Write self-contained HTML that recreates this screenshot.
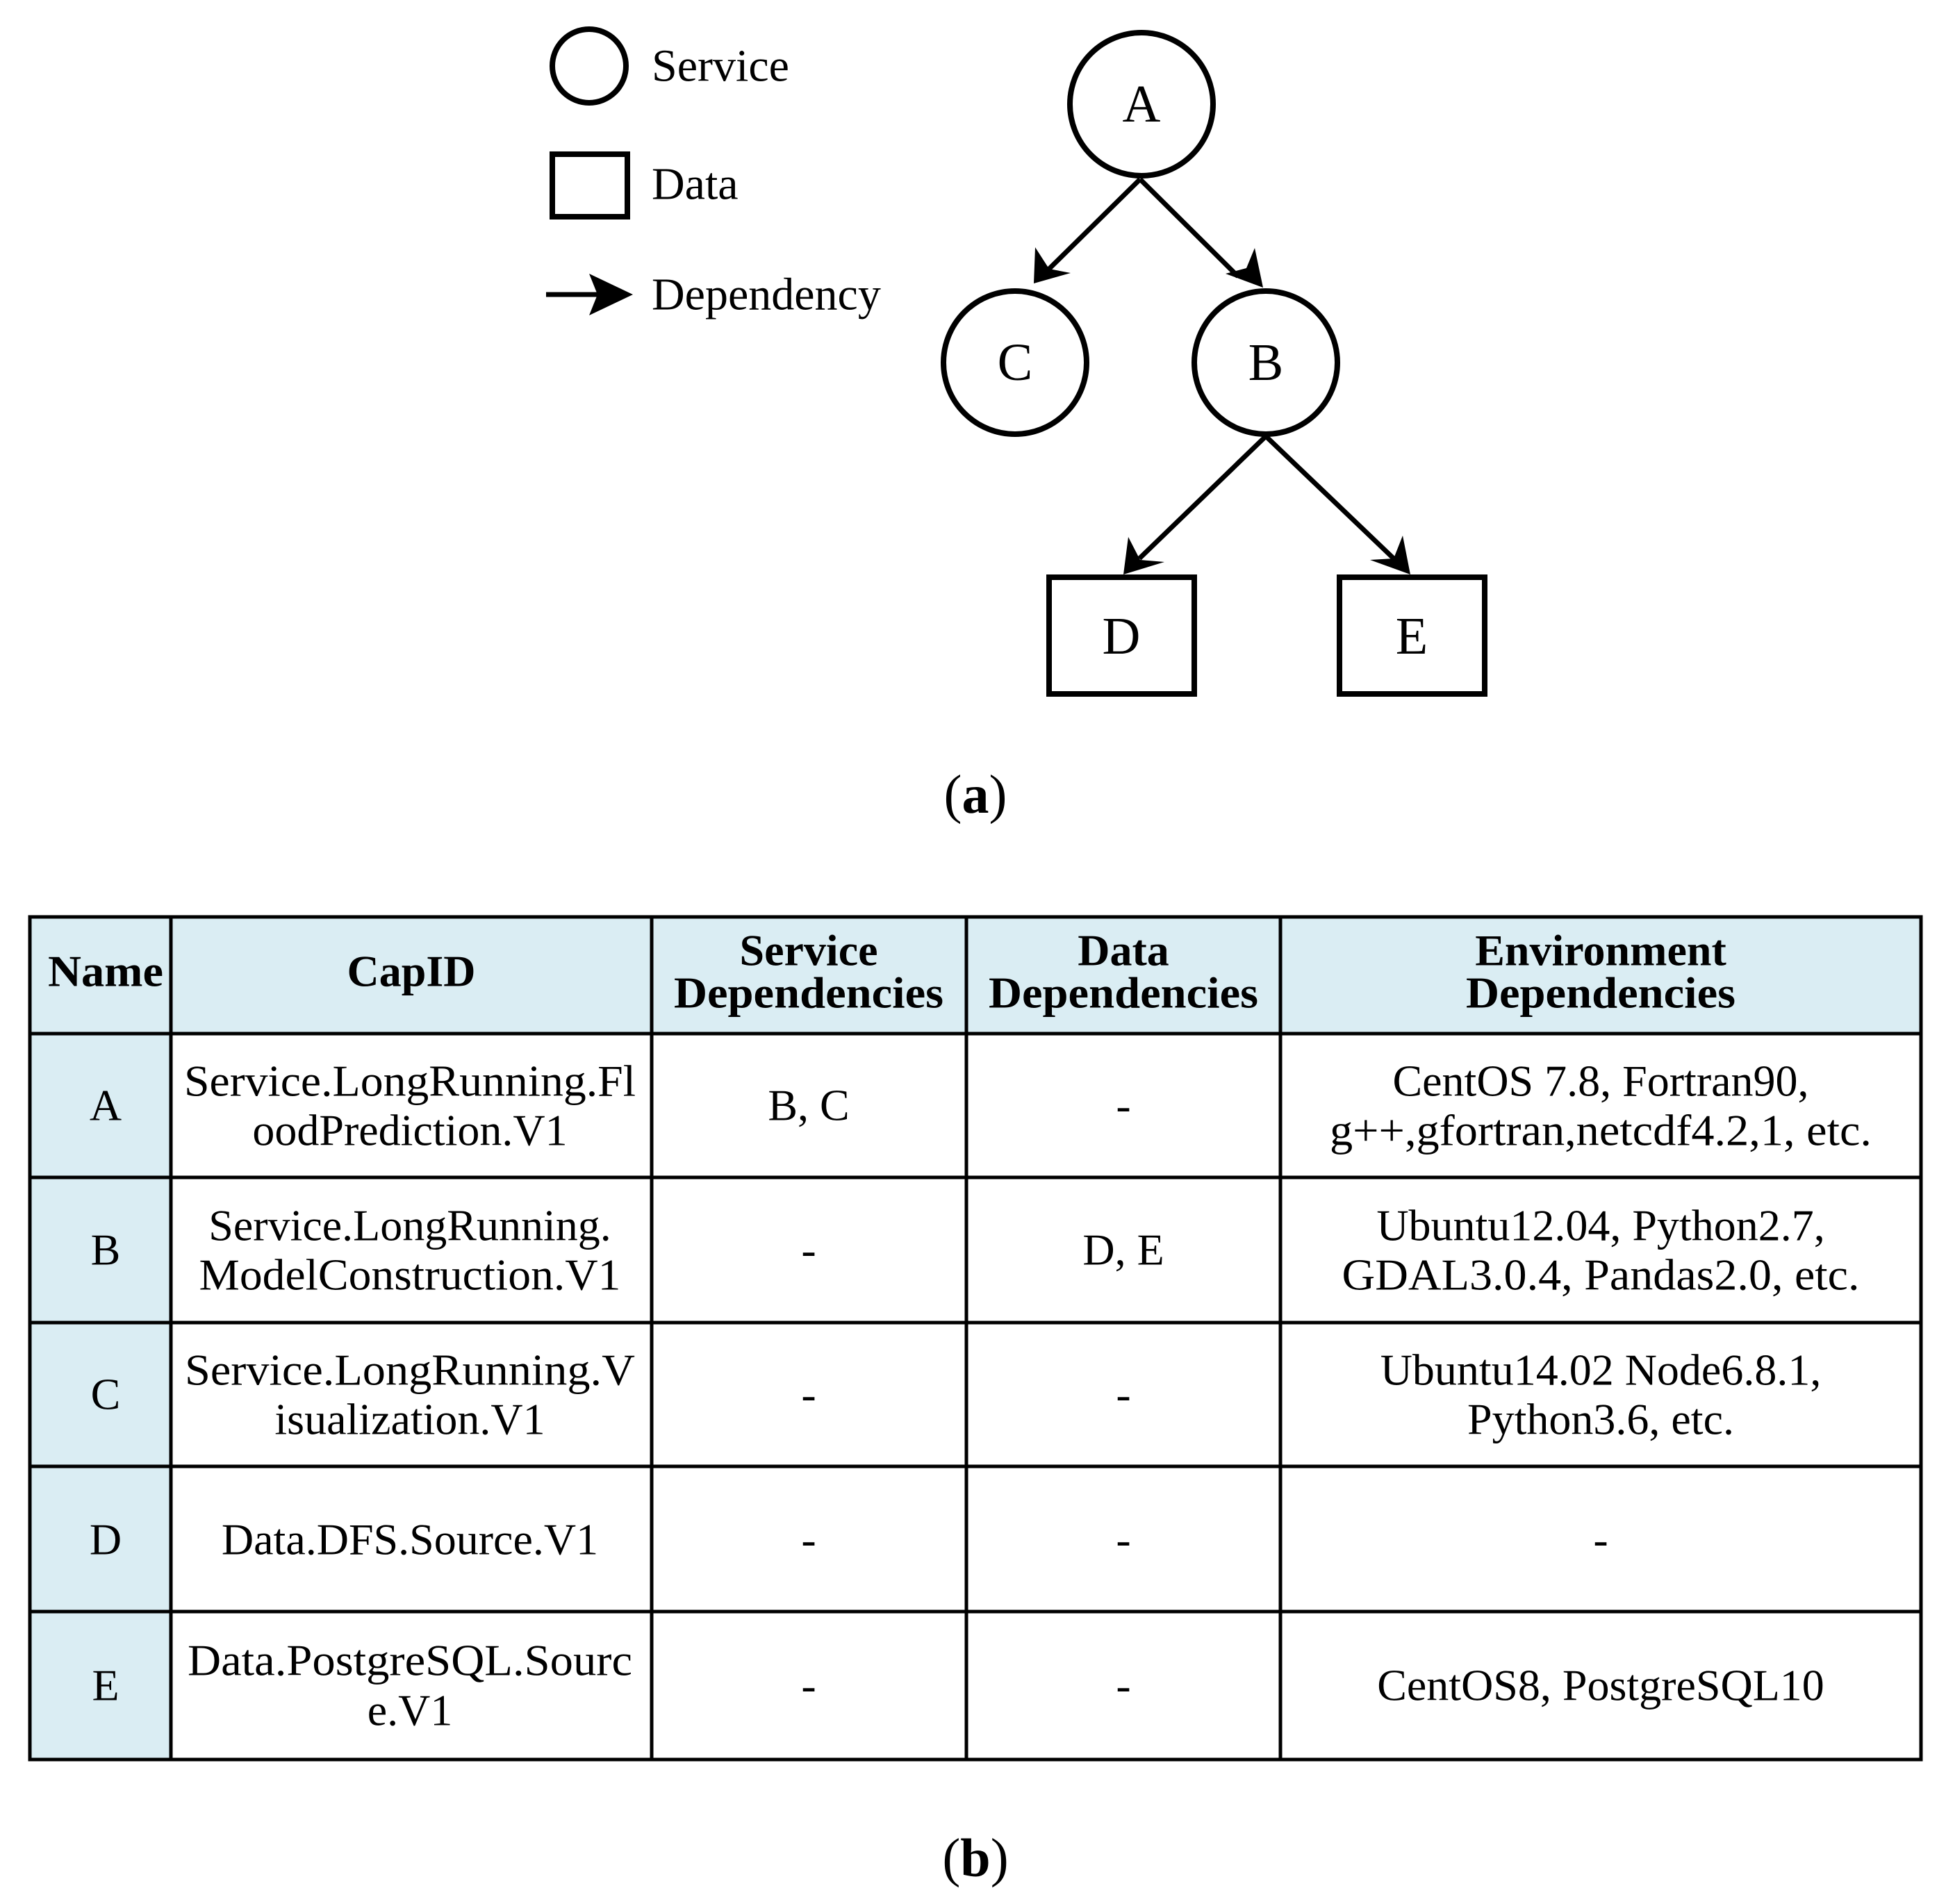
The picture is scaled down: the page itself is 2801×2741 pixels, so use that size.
<!DOCTYPE html>
<html><head><meta charset="utf-8"><style>
html,body{margin:0;padding:0;background:#fff}
svg{display:block}
text{font-family:"Liberation Serif",serif;fill:#000}
</style></head><body>
<svg width="2801" height="2741" viewBox="0 0 2801 2741" xmlns="http://www.w3.org/2000/svg">
<defs>
<marker id="ah" viewBox="0 0 10 10" refX="10" refY="5" markerWidth="10" markerHeight="10" markerUnits="userSpaceOnUse" orient="auto">
</marker>
</defs>
<!-- Legend -->
<circle cx="848" cy="95" r="53" fill="none" stroke="#000" stroke-width="8"/>
<text x="938" y="95" font-size="66" dominant-baseline="central">Service</text>
<rect x="795" y="222" width="108" height="90" fill="none" stroke="#000" stroke-width="8"/>
<text x="938" y="265" font-size="66" dominant-baseline="central">Data</text>
<line x1="786" y1="424" x2="860" y2="424" stroke="#000" stroke-width="7"/>
<polygon points="911,424 848,394 860,424 848,454" fill="#000"/>
<text x="938" y="424" font-size="66" dominant-baseline="central">Dependency</text>

<!-- Tree nodes -->
<circle cx="1643" cy="150" r="103" fill="none" stroke="#000" stroke-width="8"/>
<text x="1643" y="150" font-size="76" text-anchor="middle" dominant-baseline="central">A</text>
<circle cx="1461" cy="522" r="103" fill="none" stroke="#000" stroke-width="8"/>
<text x="1461" y="522" font-size="76" text-anchor="middle" dominant-baseline="central">C</text>
<circle cx="1822" cy="522" r="103" fill="none" stroke="#000" stroke-width="8"/>
<text x="1822" y="522" font-size="76" text-anchor="middle" dominant-baseline="central">B</text>
<rect x="1510" y="831" width="209" height="168" fill="none" stroke="#000" stroke-width="8"/>
<text x="1614" y="916" font-size="76" text-anchor="middle" dominant-baseline="central">D</text>
<rect x="1928" y="831" width="209" height="168" fill="none" stroke="#000" stroke-width="8"/>
<text x="2032" y="916" font-size="76" text-anchor="middle" dominant-baseline="central">E</text>

<!-- Arrows -->
<g stroke="#000" stroke-width="7" fill="#000">
<line x1="1641" y1="258" x2="1505" y2="392"/>
<line x1="1641" y1="258" x2="1782" y2="398"/>
<line x1="1822" y1="628" x2="1640" y2="804"/>
<line x1="1822" y1="628" x2="2006" y2="804"/>
</g>
<polygon points="1488,408 1490,356 1510,387 1541,393" fill="#000"/>
<polygon points="1818,414 1764,394 1794,386 1806,357" fill="#000"/>
<polygon points="1617,827 1624,773 1641,806 1676,809" fill="#000"/>
<polygon points="2030,827 1972,806 2006,804 2019,771" fill="#000"/>

<text x="1404" y="1143" font-size="78" text-anchor="middle" dominant-baseline="central">(<tspan font-weight="bold">a</tspan>)</text>

<!-- Table -->
<rect x="43" y="1320" width="2722" height="168" fill="#daedf3"/>
<rect x="43" y="1488" width="203" height="1045" fill="#daedf3"/>
<g stroke="#000" stroke-width="5" fill="none">
<rect x="43" y="1320" width="2722" height="1213"/>
<line x1="246" y1="1320" x2="246" y2="2533"/>
<line x1="938" y1="1320" x2="938" y2="2533"/>
<line x1="1391" y1="1320" x2="1391" y2="2533"/>
<line x1="1843" y1="1320" x2="1843" y2="2533"/>
<line x1="43" y1="1488" x2="2765" y2="1488"/>
<line x1="43" y1="1695" x2="2765" y2="1695"/>
<line x1="43" y1="1904" x2="2765" y2="1904"/>
<line x1="43" y1="2111" x2="2765" y2="2111"/>
<line x1="43" y1="2320" x2="2765" y2="2320"/>
</g>
<g font-size="64" text-anchor="middle" dominant-baseline="central">
<g font-weight="bold">
<text x="152" y="1398" textLength="166" lengthAdjust="spacingAndGlyphs">Name</text>
<text x="592" y="1398">CapID</text>
<text x="1164" y="1368">Service</text>
<text x="1164" y="1429" textLength="388" lengthAdjust="spacingAndGlyphs">Dependencies</text>
<text x="1617" y="1368">Data</text>
<text x="1617" y="1429" textLength="388" lengthAdjust="spacingAndGlyphs">Dependencies</text>
<text x="2304" y="1368">Environment</text>
<text x="2304" y="1429" textLength="388" lengthAdjust="spacingAndGlyphs">Dependencies</text>
</g>
<text x="152" y="1591">A</text>
<text x="590" y="1556" textLength="650" lengthAdjust="spacingAndGlyphs">Service.LongRunning.Fl</text>
<text x="590" y="1627">oodPrediction.V1</text>
<text x="1164" y="1591">B, C</text>
<text x="1617" y="1591">-</text>
<text x="2304" y="1556">CentOS 7.8, Fortran90,</text>
<text x="2304" y="1627" textLength="780" lengthAdjust="spacingAndGlyphs">g++,gfortran,netcdf4.2,1, etc.</text>

<text x="152" y="1799">B</text>
<text x="590" y="1764">Service.LongRunning.</text>
<text x="590" y="1835" textLength="607" lengthAdjust="spacingAndGlyphs">ModelConstruction.V1</text>
<text x="1164" y="1799">-</text>
<text x="1617" y="1799">D, E</text>
<text x="2304" y="1764">Ubuntu12.04, Python2.7,</text>
<text x="2304" y="1835" textLength="745" lengthAdjust="spacingAndGlyphs">GDAL3.0.4, Pandas2.0, etc.</text>

<text x="152" y="2007">C</text>
<text x="590" y="1972" textLength="648" lengthAdjust="spacingAndGlyphs">Service.LongRunning.V</text>
<text x="590" y="2043">isualization.V1</text>
<text x="1164" y="2007">-</text>
<text x="1617" y="2007">-</text>
<text x="2304" y="1972">Ubuntu14.02 Node6.8.1,</text>
<text x="2304" y="2043">Python3.6, etc.</text>

<text x="152" y="2216">D</text>
<text x="590" y="2216">Data.DFS.Source.V1</text>
<text x="1164" y="2216">-</text>
<text x="1617" y="2216">-</text>
<text x="2304" y="2216">-</text>

<text x="152" y="2426">E</text>
<text x="590" y="2390" textLength="640" lengthAdjust="spacingAndGlyphs">Data.PostgreSQL.Sourc</text>
<text x="590" y="2462">e.V1</text>
<text x="1164" y="2426">-</text>
<text x="1617" y="2426">-</text>
<text x="2304" y="2426">CentOS8, PostgreSQL10</text>
</g>

<text x="1404" y="2674" font-size="78" text-anchor="middle" dominant-baseline="central">(<tspan font-weight="bold">b</tspan>)</text>
</svg>
</body></html>
